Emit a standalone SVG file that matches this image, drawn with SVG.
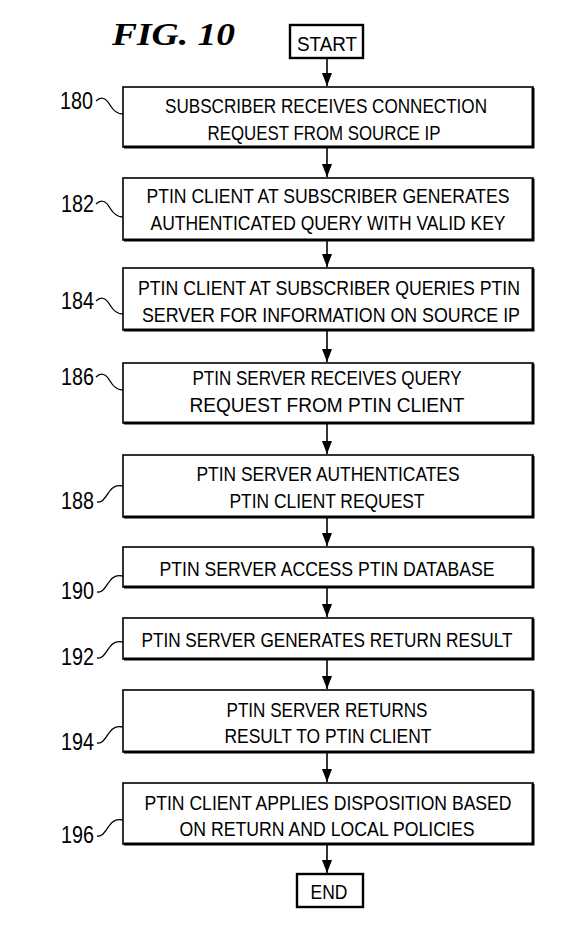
<svg xmlns="http://www.w3.org/2000/svg" width="577" height="938" viewBox="0 0 577 938">
<style>
.box{fill:#fff;stroke:#000;stroke-width:1.6}
.sh{fill:none;stroke:#000;stroke-width:3}
.t{font-family:"Liberation Sans",Arial,sans-serif;font-size:21px;fill:#000;text-anchor:middle}
.lb{font-family:"Liberation Sans",Arial,sans-serif;font-size:24px;fill:#000}
.sq{fill:none;stroke:#000;stroke-width:1.3}
.ln{stroke:#000;stroke-width:1.6;fill:none}
.title{font-family:"Liberation Serif","Times New Roman",serif;font-style:italic;font-weight:bold;font-size:31px;fill:#000}
</style>
<defs>
<marker id="ah" markerWidth="14" markerHeight="10" refX="13" refY="5" orient="auto" markerUnits="userSpaceOnUse" viewBox="0 0 14 10">
<path d="M0,0 L13,5 L0,10 Z" fill="#000"/>
</marker>
</defs>
<rect width="577" height="938" fill="#fff"/>
<text class="title" x="112" y="45" textLength="123" lengthAdjust="spacingAndGlyphs">FIG. 10</text>

<g id="connectors">
<line class="ln" x1="327" y1="58" x2="327" y2="86" marker-end="url(#ah)"/>
<line class="ln" x1="327" y1="147" x2="327" y2="177" marker-end="url(#ah)"/>
<line class="ln" x1="327" y1="240" x2="327" y2="267" marker-end="url(#ah)"/>
<line class="ln" x1="327" y1="330" x2="327" y2="362" marker-end="url(#ah)"/>
<line class="ln" x1="327" y1="423" x2="327" y2="454" marker-end="url(#ah)"/>
<line class="ln" x1="327" y1="517" x2="327" y2="546" marker-end="url(#ah)"/>
<line class="ln" x1="327" y1="587" x2="327" y2="617" marker-end="url(#ah)"/>
<line class="ln" x1="327" y1="659" x2="327" y2="689" marker-end="url(#ah)"/>
<line class="ln" x1="327" y1="752" x2="327" y2="782" marker-end="url(#ah)"/>
<line class="ln" x1="327" y1="844" x2="327" y2="873" marker-end="url(#ah)"/>
</g>

<g id="start">
<rect x="290" y="25" width="73" height="33" fill="#fff" stroke="#000" stroke-width="2.4"/>
<text class="t" x="327" y="51" textLength="60" lengthAdjust="spacingAndGlyphs">START</text>
</g>

<g id="n180">
<rect class="box" x="123" y="87" width="410" height="60"/>
<polyline class="sh" points="533,88 533,147 124,147"/>
<text class="t" x="326" y="113" textLength="322" lengthAdjust="spacingAndGlyphs">SUBSCRIBER RECEIVES CONNECTION</text>
<text class="t" x="324" y="140" textLength="233" lengthAdjust="spacingAndGlyphs">REQUEST FROM SOURCE IP</text>
<text class="lb" x="60" y="109" textLength="33" lengthAdjust="spacingAndGlyphs">180</text>
<path class="sq" d="M96,101 C101,96 106,98 110,105 C114,112 118,114 123,114"/>
</g>

<g id="n182">
<rect class="box" x="123" y="178" width="410" height="62"/>
<polyline class="sh" points="533,179 533,240 124,240"/>
<text class="t" x="328" y="203" textLength="363" lengthAdjust="spacingAndGlyphs">PTIN CLIENT AT SUBSCRIBER GENERATES</text>
<text class="t" x="328" y="230" textLength="355" lengthAdjust="spacingAndGlyphs">AUTHENTICATED QUERY WITH VALID KEY</text>
<text class="lb" x="61" y="212" textLength="33" lengthAdjust="spacingAndGlyphs">182</text>
<path class="sq" d="M96,204 C101,199 106,201 110,208 C114,215 118,217 123,217"/>
</g>

<g id="n184">
<rect class="box" x="123" y="268" width="410" height="62"/>
<polyline class="sh" points="533,269 533,330 124,330"/>
<text class="t" x="329" y="295" textLength="382" lengthAdjust="spacingAndGlyphs">PTIN CLIENT AT SUBSCRIBER QUERIES PTIN</text>
<text class="t" x="331" y="322" textLength="378" lengthAdjust="spacingAndGlyphs">SERVER FOR INFORMATION ON SOURCE IP</text>
<text class="lb" x="61" y="309" textLength="33" lengthAdjust="spacingAndGlyphs">184</text>
<path class="sq" d="M96,301 C101,296 106,298 110,305 C114,312 118,314 123,314"/>
</g>

<g id="n186">
<rect class="box" x="123" y="363" width="410" height="60"/>
<polyline class="sh" points="533,364 533,423 124,423"/>
<text class="t" x="327" y="385" textLength="269" lengthAdjust="spacingAndGlyphs">PTIN SERVER RECEIVES QUERY</text>
<text class="t" x="327" y="412" textLength="275" lengthAdjust="spacingAndGlyphs">REQUEST FROM PTIN CLIENT</text>
<text class="lb" x="61" y="385" textLength="33" lengthAdjust="spacingAndGlyphs">186</text>
<path class="sq" d="M96,377 C101,372 106,374 110,381 C114,388 118,390 123,390"/>
</g>

<g id="n188">
<rect class="box" x="123" y="455" width="410" height="62"/>
<polyline class="sh" points="533,456 533,517 124,517"/>
<text class="t" x="328" y="481" textLength="263" lengthAdjust="spacingAndGlyphs">PTIN SERVER AUTHENTICATES</text>
<text class="t" x="327" y="508" textLength="195" lengthAdjust="spacingAndGlyphs">PTIN CLIENT REQUEST</text>
<text class="lb" x="61" y="509" textLength="33" lengthAdjust="spacingAndGlyphs">188</text>
<path class="sq" d="M97,502 C102,503 105,498 109,492 C113,486 117,485 123,486"/>
</g>

<g id="n190">
<rect class="box" x="123" y="547" width="410" height="40"/>
<polyline class="sh" points="533,548 533,587 124,587"/>
<text class="t" x="327" y="576" textLength="335" lengthAdjust="spacingAndGlyphs">PTIN SERVER ACCESS PTIN DATABASE</text>
<text class="lb" x="61" y="599" textLength="33" lengthAdjust="spacingAndGlyphs">190</text>
<path class="sq" d="M97,592 C102,593 105,588 109,582 C113,576 117,575 123,576"/>
</g>

<g id="n192">
<rect class="box" x="123" y="618" width="410" height="41"/>
<polyline class="sh" points="533,619 533,659 124,659"/>
<text class="t" x="327" y="647" textLength="371" lengthAdjust="spacingAndGlyphs">PTIN SERVER GENERATES RETURN RESULT</text>
<text class="lb" x="61" y="665" textLength="33" lengthAdjust="spacingAndGlyphs">192</text>
<path class="sq" d="M97,658 C102,659 105,654 109,648 C113,642 117,641 123,642"/>
</g>

<g id="n194">
<rect class="box" x="123" y="690" width="410" height="62"/>
<polyline class="sh" points="533,691 533,752 124,752"/>
<text class="t" x="327" y="717" textLength="201" lengthAdjust="spacingAndGlyphs">PTIN SERVER RETURNS</text>
<text class="t" x="328" y="743" textLength="207" lengthAdjust="spacingAndGlyphs">RESULT TO PTIN CLIENT</text>
<text class="lb" x="61" y="750" textLength="33" lengthAdjust="spacingAndGlyphs">194</text>
<path class="sq" d="M97,743 C102,744 105,739 109,733 C113,727 117,726 123,727"/>
</g>

<g id="n196">
<rect class="box" x="123" y="783" width="410" height="61"/>
<polyline class="sh" points="533,784 533,844 124,844"/>
<text class="t" x="328" y="810" textLength="367" lengthAdjust="spacingAndGlyphs">PTIN CLIENT APPLIES DISPOSITION BASED</text>
<text class="t" x="327" y="836" textLength="295" lengthAdjust="spacingAndGlyphs">ON RETURN AND LOCAL POLICIES</text>
<text class="lb" x="61" y="843" textLength="33" lengthAdjust="spacingAndGlyphs">196</text>
<path class="sq" d="M97,836 C102,837 105,832 109,826 C113,820 117,819 123,820"/>
</g>

<g id="end">
<rect x="297" y="874" width="66" height="33" fill="#fff" stroke="#000" stroke-width="2.4"/>
<text class="t" x="329" y="899" textLength="37" lengthAdjust="spacingAndGlyphs">END</text>
</g>
</svg>
